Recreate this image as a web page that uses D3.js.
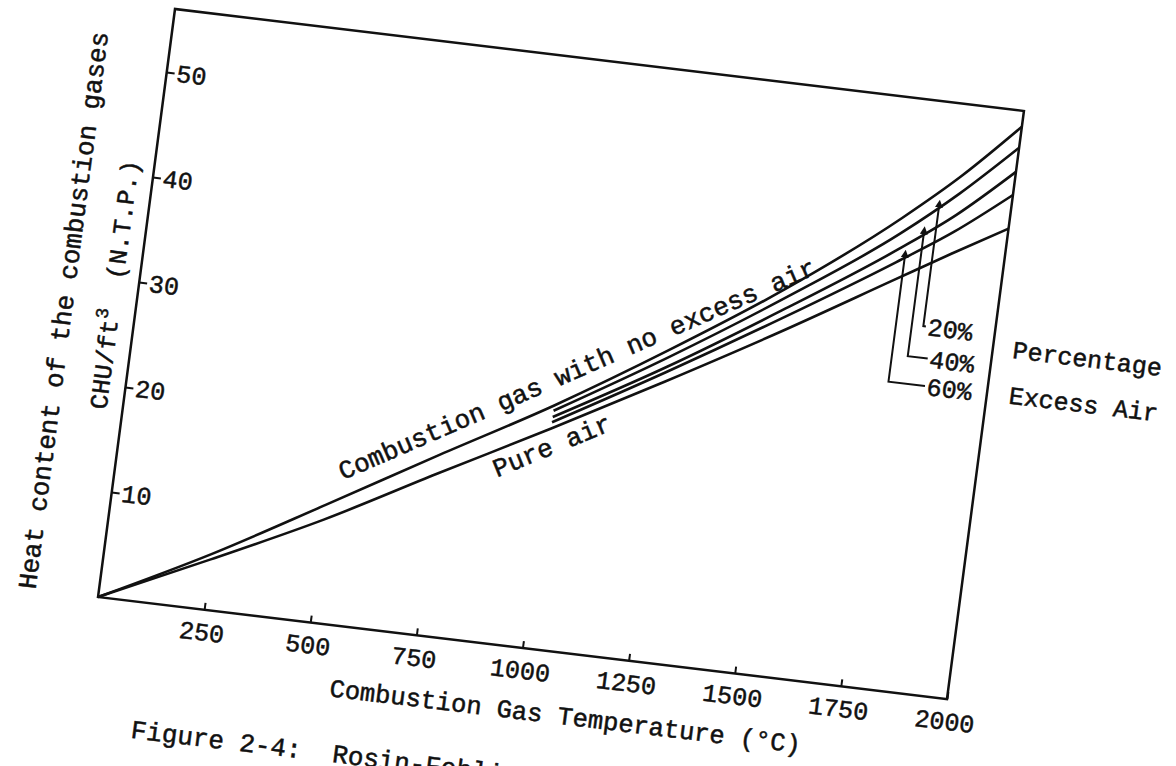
<!DOCTYPE html>
<html>
<head>
<meta charset="utf-8">
<script src="https://cdn.jsdelivr.net/npm/d3@7"></script>
<style>
  body { margin: 0; background: #fff; }
  text { font-family: "Liberation Mono", "Courier New", monospace; fill: #111; stroke: #111; stroke-width: 0.5px; }
</style>
</head>
<body>
<svg id="chart" width="1176" height="766"></svg>
<script>
// values
const temps = [0, 250, 500, 750, 1000, 1250, 1500, 1750, 1875, 2000];
const noExcessAir = [0, 5.3, 11.2, 17.2, 23.1, 29.6, 36.6, 44.6, 49.2, 54.5];
const pureAir = [0, 4.8, 9.8, 15.4, 20.9, 26.6, 32.5, 38.7, 41.8, 44.8];

const excessTemps = [1000, 1250, 1500, 1750, 1875, 2000];
const excess20 = [22.6, 28.9, 35.7, 43.1, 47.5, 52.5];
const excess40 = [22.0, 28.0, 34.6, 41.6, 45.5, 50.2];
const excess60 = [21.5, 27.5, 33.8, 40.4, 43.9, 48.0];

const xTicks = [250, 500, 750, 1000, 1250, 1500, 1750, 2000];
const yTicks = [10, 20, 30, 40, 50];

// leader lines for the excess air labels
const pointerLabels = ['20%', '40%', '60%'];
const pointerTemps = [1832, 1805, 1768];
const pointerBase = [34.7, 31.7, 29.1];
const pointerEnd = [1838, 1852, 1854];

const W = 855, H = 593;
const ink = '#111';

const svg = d3.select('#chart');

svg.append('defs').append('marker')
  .attr('id', 'arrow')
  .attr('viewBox', '0 0 10 10')
  .attr('refX', 0).attr('refY', 5)
  .attr('markerWidth', 4).attr('markerHeight', 4)
  .attr('orient', 'auto-start-reverse')
  .append('path')
  .attr('d', 'M0,0L10,5L0,10z')
  .attr('fill', ink);

// the page was scanned slightly rotated, so the whole plot sits in a tilted frame
const g = svg.append('g')
  .attr('transform', 'matrix(0.9929,0.1193,-0.1298,0.9916,175,9)');

const x = d3.scaleLinear().domain([0, 2000]).range([0, W]);
const y = d3.scaleLinear().domain([0, 56]).range([H, 0]);

g.append('rect')
  .attr('width', W).attr('height', H)
  .attr('fill', 'none').attr('stroke', ink).attr('stroke-width', 2.5);

// x axis
const xAxis = g.append('g')
  .attr('transform', `translate(0,${H})`)
  .call(d3.axisBottom(x).tickValues(xTicks).tickFormat(d3.format('d'))
    .tickSize(-7).tickPadding(13).tickSizeOuter(0));
xAxis.select('.domain').remove();
xAxis.attr('font-size', 25);
xAxis.selectAll('line').attr('stroke', ink).attr('stroke-width', 2);

// y axis, labels sit inside the box
const yAxis = g.append('g')
  .call(d3.axisRight(y).tickValues(yTicks).tickFormat(d3.format('d'))
    .tickSize(8).tickPadding(2).tickSizeOuter(0));
yAxis.select('.domain').remove();
yAxis.attr('font-size', 25);
yAxis.selectAll('line').attr('stroke', ink).attr('stroke-width', 2);

// curves
const line = d3.line()
  .x(d => x(d[0]))
  .y(d => y(d[1]))
  .curve(d3.curveMonotoneX);

const series = [
  d3.zip(temps, noExcessAir),
  d3.zip(excessTemps, excess20),
  d3.zip(excessTemps, excess40),
  d3.zip(excessTemps, excess60),
  d3.zip(temps, pureAir)
];

g.append('g').selectAll('path')
  .data(series)
  .join('path')
  .attr('d', line)
  .attr('fill', 'none')
  .attr('stroke', ink)
  .attr('stroke-width', 2.6);

// leader lines + labels
const excessSeries = [excess20, excess40, excess60];
pointerLabels.forEach((lab, i) => {
  const onCurve = d3.scaleLinear().domain(excessTemps).range(excessSeries[i]);
  const px = pointerTemps[i];
  g.append('path')
    .attr('d', `M${x(px)},${y(onCurve(px))}V${y(pointerBase[i])}H${x(pointerEnd[i])}`)
    .attr('fill', 'none')
    .attr('stroke', ink)
    .attr('stroke-width', 2)
    .attr('marker-start', 'url(#arrow)');
  g.append('text')
    .attr('x', x(pointerEnd[i]) + 2)
    .attr('y', y(pointerBase[i]))
    .attr('dy', '0.35em')
    .attr('font-size', 25)
    .text(lab);
});

g.append('text')
  .attr('x', x(2047)).attr('y', y(32.7))
  .attr('font-size', 25)
  .text('Percentage');
g.append('text')
  .attr('x', x(2052)).attr('y', y(28.4))
  .attr('font-size', 25)
  .text('Excess Air');

// labels along the curves
function angleBetween(a, b) {
  return Math.atan2(y(b[1]) - y(a[1]), x(b[0]) - x(a[0])) * 180 / Math.PI;
}
const gasLabel = [[533, 13.7], [1565, 38.3]];
g.append('text')
  .attr('transform', `translate(${x(gasLabel[0][0])},${y(gasLabel[0][1])}) rotate(${angleBetween(gasLabel[0], gasLabel[1])})`)
  .attr('font-size', 26)
  .text('Combustion gas with no excess air');

const airLabel = [[889, 15.7], [1144, 21.5]];
g.append('text')
  .attr('transform', `translate(${x(airLabel[0][0])},${y(airLabel[0][1])}) rotate(${angleBetween(airLabel[0], airLabel[1])})`)
  .attr('font-size', 26)
  .text('Pure air');

// axis titles
g.append('text')
  .attr('x', W * 0.56).attr('y', H + 71)
  .attr('text-anchor', 'middle')
  .attr('font-size', 25.5)
  .text('Combustion Gas Temperature (°C)');

g.append('text')
  .attr('transform', `translate(-63,${H * 0.527}) rotate(-90)`)
  .attr('text-anchor', 'middle')
  .attr('font-size', 26)
  .text('Heat content of the combustion gases');

const unit = g.append('text')
  .attr('transform', `translate(-16,${H * 0.685}) rotate(-90)`)
  .attr('font-size', 25)
  .style('white-space', 'pre');
unit.append('tspan').text('CHU/ft');
unit.append('tspan').attr('dy', -11).attr('font-size', 18).text('3');
unit.append('tspan').attr('dy', 11).text('  (N.T.P.)');

// caption, runs off the bottom of the scan
g.append('text')
  .attr('x', 50).attr('y', H + 136)
  .attr('font-size', 26)
  .style('white-space', 'pre')
  .text('Figure 2-4:  Rosin-Fehling I-t Diagram');
</script>
</body>
</html>
